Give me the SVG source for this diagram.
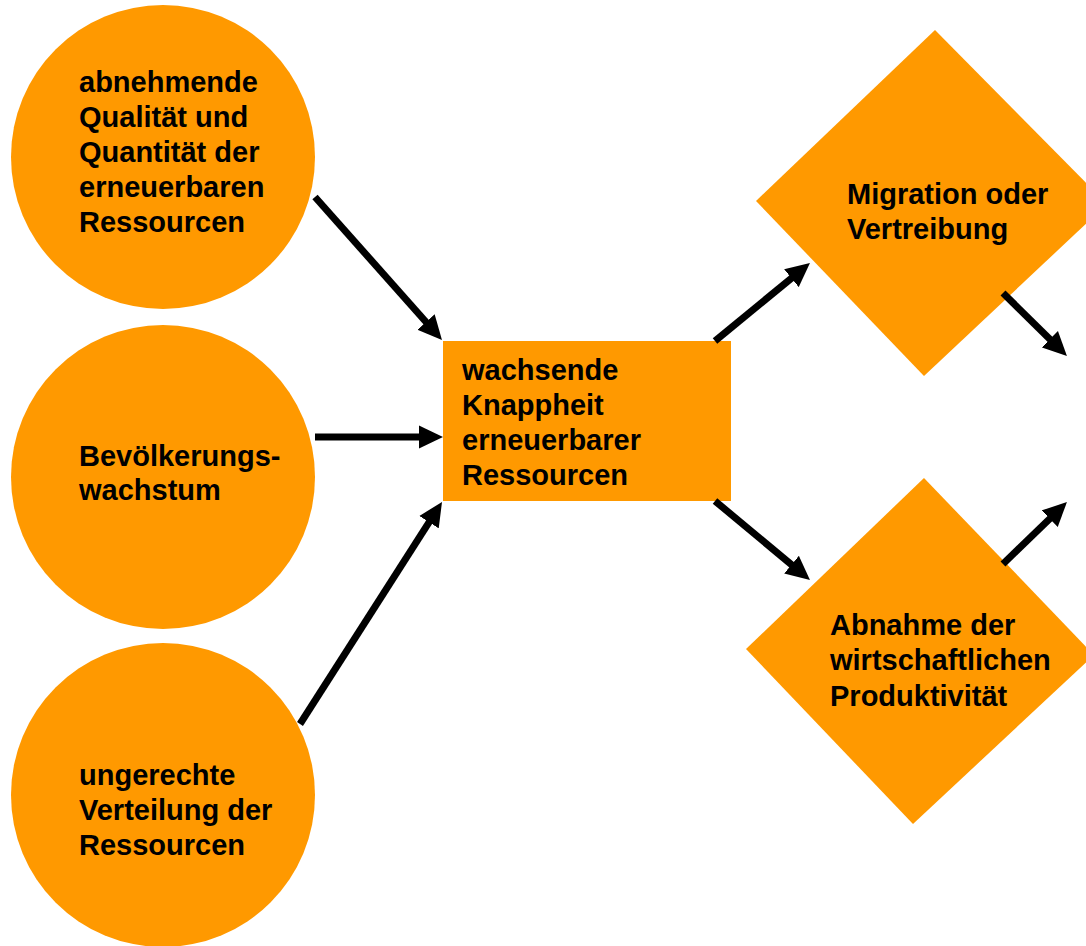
<svg xmlns="http://www.w3.org/2000/svg" width="1086" height="946" viewBox="0 0 1086 946">
<style>
.node{fill:#FF9900;}
.lbl{font-family:"Liberation Sans",Arial,sans-serif;font-weight:bold;font-size:29px;fill:#000;}
.conn{stroke:#000;stroke-width:7;fill:none;marker-end:url(#ah);}
</style>
<defs>
<marker id="ah" markerUnits="userSpaceOnUse" markerWidth="24" markerHeight="24" refX="4" refY="11.5" orient="auto" viewBox="0 0 24 23">
<path d="M0,0 L24,11.5 L0,23 z" fill="#000"/>
</marker>
</defs>
<rect width="1086" height="946" fill="#fff"/>
<g id="n-qualitaet">
<circle class="node" cx="163" cy="157" r="152"/>
<text class="lbl" x="79"><tspan x="79" y="92">abnehmende</tspan><tspan x="79" y="127">Qualität und</tspan><tspan x="79" y="162">Quantität der</tspan><tspan x="79" y="197">erneuerbaren</tspan><tspan x="79" y="232">Ressourcen</tspan></text>
</g>
<g id="n-bevoelkerung">
<circle class="node" cx="163" cy="477" r="152"/>
<text class="lbl"><tspan x="79" y="466">Bevölkerungs-</tspan><tspan x="79" y="500">wachstum</tspan></text>
</g>
<g id="n-verteilung">
<circle class="node" cx="163" cy="795" r="152"/>
<text class="lbl"><tspan x="79" y="785">ungerechte</tspan><tspan x="79" y="820">Verteilung der</tspan><tspan x="79" y="855">Ressourcen</tspan></text>
</g>
<g id="n-knappheit">
<rect class="node" x="443" y="341" width="288" height="160"/>
<text class="lbl"><tspan x="462" y="380">wachsende</tspan><tspan x="462" y="415">Knappheit</tspan><tspan x="462" y="450">erneuerbarer</tspan><tspan x="462" y="485">Ressourcen</tspan></text>
</g>
<g id="n-migration">
<polygon class="node" points="935,30 1107,204 924,376 756,201"/>
<text class="lbl"><tspan x="847" y="204">Migration oder</tspan><tspan x="847" y="239">Vertreibung</tspan></text>
</g>
<g id="n-produktivitaet">
<polygon class="node" points="924,478 1094,655 913,824 746,649"/>
<text class="lbl"><tspan x="830" y="635">Abnahme der</tspan><tspan x="830" y="670">wirtschaftlichen</tspan><tspan x="830" y="706">Produktivität</tspan></text>
</g>
<g id="connectors">
<line class="conn" x1="315" y1="197" x2="428.7" y2="325"/>
<line class="conn" x1="315" y1="437" x2="423" y2="437"/>
<line class="conn" x1="300" y1="724" x2="431.2" y2="518.8"/>
<line class="conn" x1="715" y1="341" x2="794.5" y2="275.7"/>
<line class="conn" x1="715" y1="501" x2="794.6" y2="567.2"/>
<line class="conn" x1="1003" y1="293" x2="1052.7" y2="342"/>
<line class="conn" x1="1003" y1="564" x2="1052.6" y2="515.9"/>
</g>
</svg>
